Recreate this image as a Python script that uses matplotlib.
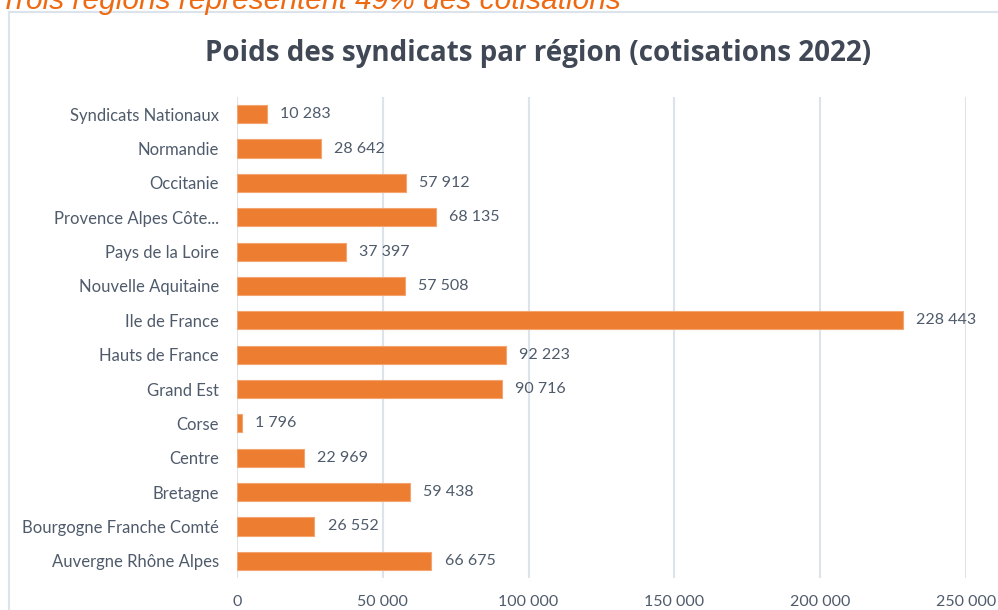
import matplotlib.pyplot as plt
from matplotlib.patches import Rectangle
from matplotlib.ticker import FuncFormatter

regions = ['Auvergne Rhône Alpes', 'Bourgogne Franche Comté', 'Bretagne', 'Centre',
           'Corse', 'Grand Est', 'Hauts de France', 'Ile de France',
           'Nouvelle Aquitaine', 'Pays de la Loire', 'Provence Alpes Côte...',
           'Occitanie', 'Normandie', 'Syndicats Nationaux']
cotisations = [66675, 26552, 59438, 22969, 1796, 90716, 92223, 228443,
               57508, 37397, 68135, 57912, 28642, 10283]
x_ticks = [0, 50000, 100000, 150000, 200000, 250000]

orange = '#ED7D31'
label_color = '#4F5B6B'

plt.rcParams['font.family'] = ['Lato', 'DejaVu Sans']

def fmt(v):
    return f'{int(v):,}'.replace(',', ' ')

fig = plt.figure(figsize=(9.98, 6.10), dpi=100)

# chart area border
fig.patches.append(Rectangle((9 / 998, -0.05), 1.0, 1 - 12 / 610 + 0.05,
                             transform=fig.transFigure, fill=False,
                             edgecolor='#DDE3EA', linewidth=1.5))

# heading of the slide, cut off at the top as in the source
fig.text(0.0, 1 - 9 / 610, 'Trois régions représentent 49% des cotisations',
         fontsize=21.5, style='italic', color='#EE6A12',
         family=['Liberation Sans', 'DejaVu Sans'], ha='left', va='baseline')

fig.text(538 / 998, 1 - 53 / 610, 'Poids des syndicats par région (cotisations 2022)',
         fontsize=20, fontweight='bold', color='#404856',
         family=['Open Sans', 'DejaVu Sans'], ha='center', va='center')

ax = fig.add_axes([237 / 998, 1 - 578 / 610, (966 - 237) / 998, (578 - 97) / 610])

pos = range(len(regions))
ax.barh(pos, cotisations, height=0.53, color=orange, edgecolor='#F4A46E',
        linewidth=0.8, zorder=3)

for y, v in zip(pos, cotisations):
    ax.text(v + 4500, y, fmt(v), va='center', ha='left', fontsize=11.5,
            color=label_color)

ax.set_xlim(0, 250000)
ax.set_ylim(-0.5, len(regions) - 0.5)
ax.set_yticks(list(pos))
ax.set_yticklabels(regions, fontsize=12, color=label_color)
ax.set_xticks(x_ticks)
ax.xaxis.set_major_formatter(FuncFormatter(lambda v, p: fmt(v)))
ax.tick_params(axis='x', labelsize=11.5, labelcolor=label_color, length=0, pad=12)
ax.tick_params(axis='y', length=0, pad=13)

ax.grid(axis='x', color='#DDE3EA', linewidth=1.5, zorder=0)
for s in ax.spines.values():
    s.set_visible(False)

fig.savefig('out.png', dpi=100)
